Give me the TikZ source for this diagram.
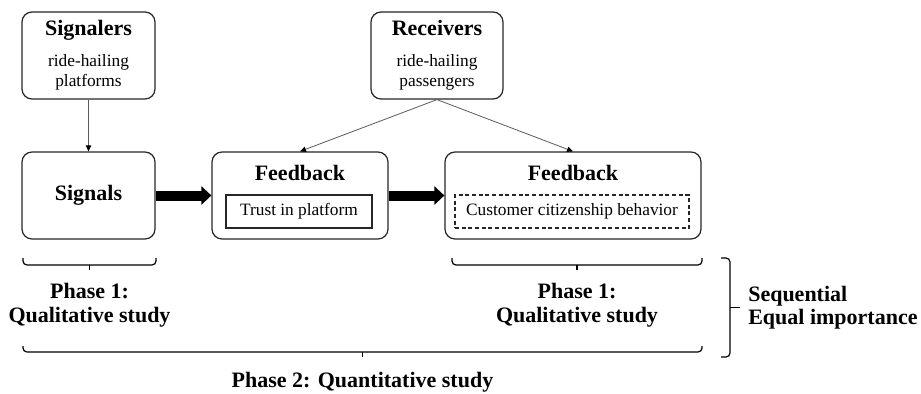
\documentclass[tikz,border=0pt]{standalone}
\usepackage{fontspec}
\setmainfont{Liberation Serif}
\usetikzlibrary{arrows.meta}
\newcommand{\ttlfont}{\fontsize{16.5}{20}\selectfont\bfseries}
\newcommand{\txtfont}{\fontsize{13}{15}\selectfont}
\newcommand{\phfont}{\fontsize{16.5}{17.6}\selectfont\bfseries}

\begin{document}
\begin{tikzpicture}[x=0.75pt,y=-0.75pt,
        box/.style={draw=black!85,line width=0.9pt,rounded corners=7.5pt,minimum height=65.25pt,inner sep=0pt},
        inbox/.style={draw=black!85,minimum height=24.75pt,inner sep=0pt,font=\txtfont},
        thinarr/.style={draw=black!65,line width=0.6pt,-{Triangle[length=4.5pt,width=4pt,color=black]}},
        bigarr/.style={line width=7.5pt,-{Triangle[length=7.5pt,width=13.5pt]}},
        bkt/.style={line width=0.9pt,rounded corners=3pt},
        phase/.style={font=\phfont,align=center,inner sep=0pt}]
        \useasboundingbox (0,0) rectangle (921,393);
        % top row
        \node[box,minimum width=99.75pt,align=center,font=\txtfont] at (88.5,55.5) (sigr) {{\ttlfont Signalers}\\[8pt]ride-hailing\\platforms};
        \node[box,minimum width=99pt,align=center,font=\txtfont] at (437,55.5) (recv) {{\ttlfont Receivers}\\[8pt]ride-hailing\\passengers};
        % middle row
        \node[box,minimum width=99.75pt,font=\ttlfont] at (88.5,195.5) (sig) {Signals};
        \node[box,minimum width=132pt] at (300,195.5) (fbone) {};
        \node[font=\ttlfont,anchor=north,inner sep=0pt] at (300,165) (fbonettl) {Feedback};
        \node[inbox,line width=1.4pt,minimum width=109.5pt] at (299,211.5) (trust) {Trust in platform};
        \node[box,minimum width=192pt] at (573,195.5) (fbtwo) {};
        \node[font=\ttlfont,anchor=north,inner sep=0pt] at (573,165) (fbtwottl) {Feedback};
        \node[inbox,line width=0.8pt,dash pattern=on 3pt off 2pt,minimum width=175.5pt] at (572,211.5) (ccb) {Customer citizenship behavior};
        % connectors
        \draw[thinarr] (sigr) -- (sig);
        \draw[thinarr] (recv.south) -- (fbone.north);
        \draw[thinarr] (recv.south) -- (fbtwo.north);
        \draw[bigarr] (sig) -- (fbone);
        \draw[bigarr] (fbone) -- (fbtwo);
        % brackets
        \draw[bkt] (23,258) -- (23,265) -- (156,265) -- (156,258);
        \draw[line width=0.9pt] (89.5,265) -- (89.5,270) coordinate (tipone);
        \node[phase,below=10pt] at (tipone) (phaseone) {Phase 1:\\Qualitative study};
        \draw[bkt] (452,258) -- (452,265) -- (702,265) -- (702,258);
        \draw[line width=0.9pt] (577,265) -- (577,270) coordinate (tiptoo);
        \node[phase,below=10pt] at (tiptoo) (phaseonetoo) {Phase 1:\\Qualitative study};
        \draw[bkt] (23,346) -- (23,352) -- (702,352) -- (702,346);
        \draw[line width=0.9pt] (362.5,352) -- (362.5,357) coordinate (tiptwo);
        \node[phase,below=11pt] at (tiptwo) (phasetwo) {Phase 2: Quantitative study};
        \draw[bkt] (721,258) -- (730,258) -- (730,357) -- (721,357);
        \draw[line width=0.9pt] (730,307.5) -- (740,307.5) coordinate (tipdes);
        \node[phase,align=left,right=6pt] at (tipdes) (design) {Sequential\\Equal importance};
\end{tikzpicture}
\end{document}
